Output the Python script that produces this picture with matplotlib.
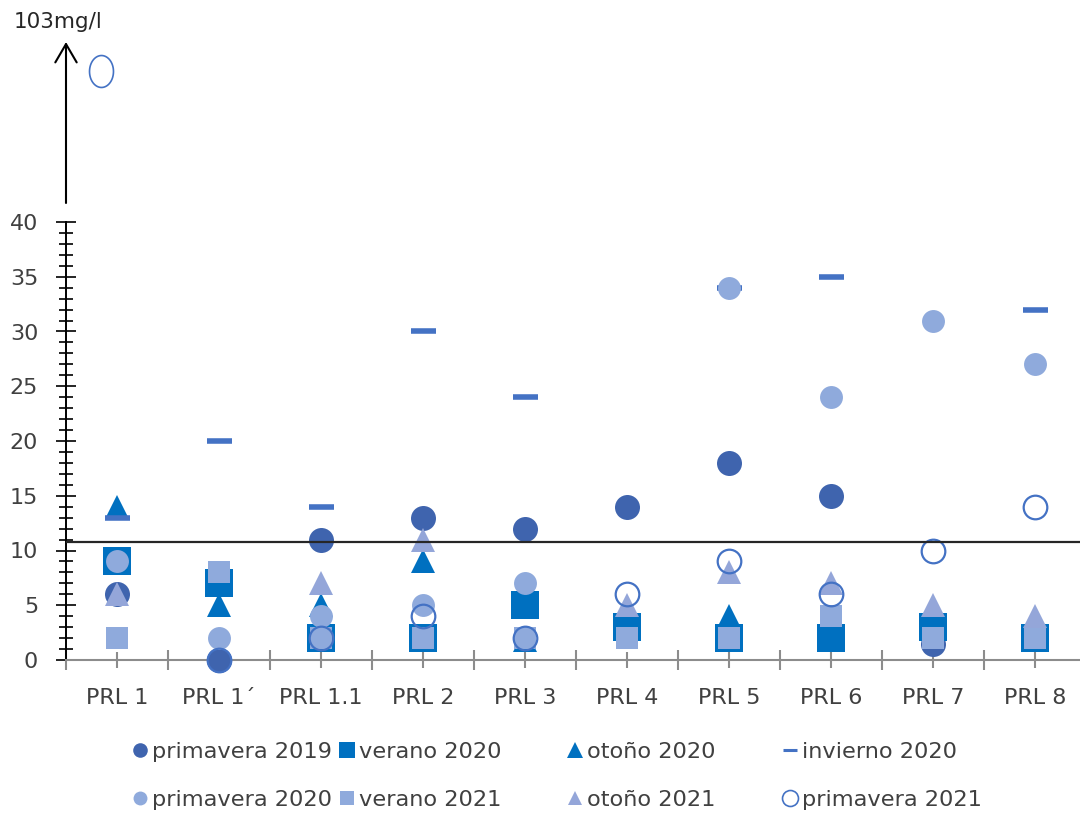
import numpy as np
import matplotlib
matplotlib.use("Agg")
import matplotlib.pyplot as plt
from matplotlib import transforms
from matplotlib.path import Path
from matplotlib.lines import Line2D
from matplotlib.ticker import FixedLocator

plt.rcParams['font.family'] = ['DejaVu Sans']

# ---------------------------------------------------------------- data
categories = ["PRL 1", "PRL 1´", "PRL 1.1", "PRL 2", "PRL 3",
              "PRL 4", "PRL 5", "PRL 6", "PRL 7", "PRL 8"]
nan = np.nan
primavera_2019 = [6, 0, 11, 13, 12, 14, 18, 15, 1.5, nan]
verano_2020 = [9, 7, 2, 2, 5, 3, 2, 2, 3, 2]
otono_2020 = [14, 5, 5, 9, 1.8, nan, 4, nan, nan, nan]
invierno_2020 = [13, 20, 14, 30, 24, nan, 34, 35, nan, 32]
primavera_2020 = [9, 2, 4, 5, 7, nan, 34, 24, 31, 27]
verano_2021 = [2, 8, 2, 2, 2, 2, 2, 4, 2, 2]
otono_2021 = [6, nan, 7, 11, nan, 5, 8, 7, 5, 4]
primavera_2021 = [103, 0, 2, 4, 2, 6, 9, 6, 10, 14]

limit_value = 10.8
unit_label = "103mg/l"
y_ticks = list(range(0, 41, 5))

# values above the break are drawn on a compressed upper segment
axis_break = 40
break_ratio = 0.219


def forward(v):
    v = np.asarray(v, dtype=float)
    return np.where(v <= axis_break, v, axis_break + (v - axis_break) * break_ratio)


def inverse(t):
    t = np.asarray(t, dtype=float)
    return np.where(t <= axis_break, t, axis_break + (t - axis_break) / break_ratio)


# ---------------------------------------------------------------- figure
W, H = 1080, 821
fig = plt.figure(figsize=(W / 100, H / 100), dpi=100)
ax = fig.add_axes([66 / W, (H - 660) / H, 1020 / W, 650 / H])
ax.set_yscale('function', functions=(forward, inverse))
px_per_unit = 10.95
ax.set_ylim(0, float(inverse(650 / px_per_unit)))
ax.set_xlim(-0.5, 9.5)

dark = '#3F64AE'
blue = '#0070C0'
mid = '#4472C4'
light = '#8FAADC'
lilac = '#94A6D9'

series = [
    (primavera_2019, "primavera 2019", dict(marker='o', ms=18, color=dark, mew=0), dict(ms=10.5)),
    (verano_2020, "verano 2020", dict(marker='s', ms=20.5, color=blue, mew=0), dict(ms=11.5)),
    (otono_2020, "otoño 2020", dict(marker='^', ms=17.5, color=blue, mew=0), dict(ms=11)),
    (invierno_2020, "invierno 2020", dict(marker='_', ms=18, color=mid, mew=4), dict(ms=10, mew=2.2)),
    (primavera_2020, "primavera 2020", dict(marker='o', ms=16.5, color=light, mew=0), dict(ms=10)),
    (verano_2021, "verano 2021", dict(marker='s', ms=16.5, color=light, mew=0), dict(ms=10.5)),
    (otono_2021, "otoño 2021", dict(marker='^', ms=17.5, color=lilac, mew=0), dict(ms=10.5)),
    (primavera_2021, "primavera 2021", dict(marker='o', ms=17, mfc='none', mec=mid, mew=1.6), dict(ms=11.5, mew=1.2)),
]

x = np.arange(len(categories))
handles = {}
for values, label, style, leg_style in series:
    vals = np.array(values, dtype=float)
    inside = vals <= axis_break
    ax.plot(x[inside], vals[inside], ls='none', clip_on=False, zorder=3, **style)
    handles[label] = Line2D([], [], ls='none', **{**style, **leg_style})

# points above the break: drawn as an outlined ellipse beside the arrow
vals = np.array(primavera_2021, dtype=float)
above = vals > axis_break
theta = np.linspace(0, 2 * np.pi, 73)
ellipse = Path(np.column_stack([0.75 * np.cos(theta), np.sin(theta)]), closed=True)
shifted = transforms.offset_copy(ax.transData, fig=fig, x=-16, y=0, units='dots')
ax.plot(x[above], vals[above], ls='none', marker=ellipse, ms=23, mfc='none',
        mec=mid, mew=1.2, clip_on=False, zorder=3, transform=shifted)

# reference limit
ax.axhline(limit_value, color='#262626', lw=1.6, zorder=4)

# ---------------------------------------------------------------- axes
for side in ('top', 'right'):
    ax.spines[side].set_visible(False)
ax.spines['left'].set_bounds(0, 40)
ax.spines['left'].set_color('black')
ax.spines['left'].set_linewidth(1.4)
ax.spines['bottom'].set_color('#8c8c8c')
ax.spines['bottom'].set_linewidth(1.5)

ax.yaxis.set_major_locator(FixedLocator(y_ticks))
ax.yaxis.set_minor_locator(FixedLocator(list(range(0, 41))))
ax.set_yticklabels([str(v) for v in y_ticks])
ax.tick_params(axis='y', which='major', direction='inout', length=14, width=1.2,
               color='black', pad=13, labelsize=16, labelcolor='#404040')
ax.tick_params(axis='y', which='minor', direction='inout', length=10, width=1.2,
               color='black')

ax.set_xticks(x)
ax.set_xticklabels(categories)
ax.xaxis.set_minor_locator(FixedLocator(np.arange(-0.5, len(categories), 1.0)))
ax.tick_params(axis='x', which='major', direction='inout', length=11, width=1.5,
               color='#8c8c8c', pad=15, labelsize=16, labelcolor='#404040')
ax.tick_params(axis='x', which='minor', direction='inout', length=14, width=1.5,
               color='#8c8c8c')

# axis continuation arrow and unit label
ax.annotate('', xy=(-0.5, float(inverse((660 - 42) / px_per_unit))),
            xytext=(-0.5, float(inverse((660 - 203) / px_per_unit))),
            arrowprops=dict(arrowstyle='->,head_length=0.6,head_width=0.35', lw=1.5,
                            color='black', shrinkA=0, shrinkB=0, mutation_scale=22),
            annotation_clip=False)
fig.text(14 / W, 1 - 22 / H, unit_label, ha='left', va='center', fontsize=15.5,
         color='#262626')

# ---------------------------------------------------------------- legend
columns = [
    (133, ["primavera 2019", "primavera 2020"]),
    (340, ["verano 2020", "verano 2021"]),
    (568, ["otoño 2020", "otoño 2021"]),
    (783, ["invierno 2020", "primavera 2021"]),
]
for x_px, labels in columns:
    fig.legend([handles[l] for l in labels], labels, loc='center left',
               bbox_to_anchor=(x_px / W, 1 - 776 / H), frameon=False,
               borderpad=0, borderaxespad=0, handlelength=0.6, handletextpad=0.25,
               labelspacing=1.25, fontsize=16.2, labelcolor='#404040')

fig.savefig('out.png', dpi=100)
